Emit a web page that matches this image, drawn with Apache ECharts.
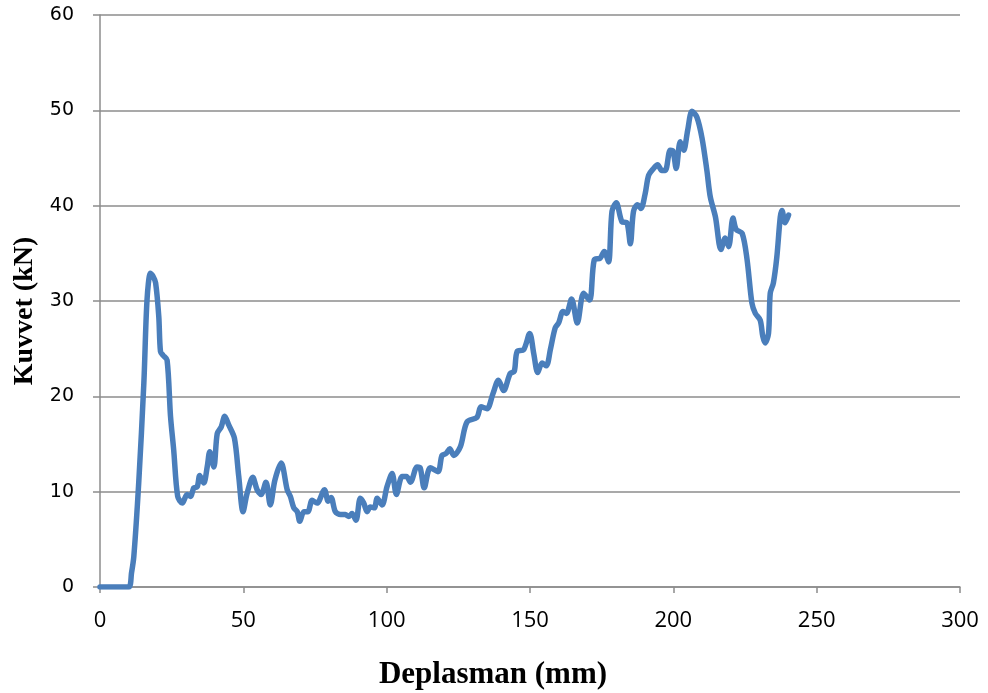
<!DOCTYPE html>
<html><head><meta charset="utf-8">
<script src="https://cdn.jsdelivr.net/npm/echarts@6/dist/echarts.min.js"></script>
<style>html,body{margin:0;padding:0;background:#fff}#c{width:988px;height:693px}</style>
</head><body><div id="c"></div>
<script>
const xTicks = [0, 50, 100, 150, 200, 250, 300];
const yTicks = [0, 10, 20, 30, 40, 50, 60];
const displacement = [0,5,10,11,11.8,13.5,15.3,16.4,17.6,18.5,19.4,20.5,21.1,22,23.4,24.6,25.7,27.1,28.7,30.4,31.6,32.7,33.9,34.8,36.2,37.4,38.3,39.7,40.9,42.3,43.5,44.9,46.9,48.4,49.9,51.3,53.3,54.8,56.2,57.9,59.4,61.0,63.2,65.3,66.4,67.6,68.8,69.7,71.1,72.5,74.0,75.7,78.3,79.6,80.6,82.1,83.9,85.6,86.8,87.9,89.3,90.8,92.0,93.2,94.3,95.7,96.7,98.4,100.1,101.9,103.4,105.4,106.9,108.3,110.6,111.7,113.1,115.2,117.9,119.3,120.7,122.0,123.4,125.7,128.0,131.5,132.9,135.0,137.1,139.0,140.8,143.1,144.5,145.5,147.8,149.9,151.3,152.7,154.2,155.7,157.1,158.8,160,161.5,162.7,164.5,166.5,168.7,170.8,172.4,174.5,175.9,177.4,178.6,180.1,182.1,183.8,185.0,186.1,187.5,188.7,190.2,191.4,193.1,194.5,196,197.2,198.9,199.9,201,202.4,203.6,205,206.5,208.2,210,211.7,212.9,214.7,216.6,218.1,219.3,220.8,221.9,224.0,225.7,227.4,228.6,230.3,231.2,232.0,233.2,233.8,234.9,236.1,237.3,237.9,239.0,240.2];
const force = [0,0,0,1.5,3.2,10.9,21.4,30.1,32.9,32.6,31.9,28.4,24.7,24.3,23.8,17.9,14.4,9.5,8.8,9.7,9.5,10.4,10.5,11.7,10.9,12.6,14.2,12.6,16.1,16.8,17.9,17.0,15.6,11.6,7.9,9.8,11.5,10.2,9.7,11.0,8.6,11.2,13.0,10.2,9.5,8.3,7.9,6.9,7.9,7.9,9.1,8.8,10.2,9.0,9.4,7.9,7.6,7.6,7.4,7.7,7.0,9.3,8.8,7.9,8.4,8.3,9.3,8.6,10.5,11.9,9.7,11.6,11.6,11.0,12.6,12.5,10.4,12.5,12.1,13.8,14.0,14.5,13.8,14.7,17.3,17.8,18.9,18.7,20.3,21.7,20.6,22.4,22.6,24.7,24.9,26.6,24.5,22.5,23.5,23.2,24.9,27.2,27.7,28.9,28.7,30.2,27.7,30.8,30.1,34.3,34.5,35.2,34.1,39.4,40.3,38.3,38.2,36.0,39.4,40.1,39.7,41.3,43.2,43.9,44.3,43.7,43.7,45.8,45.7,43.9,46.7,45.8,47.9,49.9,49.3,47.1,43.7,40.9,38.8,35.4,36.6,35.7,38.7,37.5,37.1,34.4,29.8,28.7,28.0,26.3,25.6,26.6,30.8,31.9,34.6,38.8,39.5,38.2,39.0];

const chart = echarts.init(document.getElementById('c'), null, {renderer: 'canvas'});
const lineData = displacement.map((x, i) => [x, force[i]]);
const gridColor = '#8c8c8c';
chart.setOption({
  animation: false,
  backgroundColor: '#ffffff',
  grid: {left: 100, right: 28, top: 15, bottom: 106, containLabel: false, outerBoundsMode: 'none'},
  xAxis: {
    type: 'value', min: xTicks[0], max: xTicks[xTicks.length - 1], interval: 50,
    name: 'Deplasman (mm)', nameLocation: 'middle', nameGap: 72,
    nameTextStyle: {fontFamily: 'Liberation Serif', fontWeight: 'bold', fontSize: 31, color: '#000', padding: [0, 74, 0, 0]},
    axisLine: {lineStyle: {color: gridColor, width: 1.5}},
    axisTick: {show: true, inside: false, length: 6, lineStyle: {color: gridColor, width: 1.5}},
    axisLabel: {margin: 23, fontFamily: 'Open Sans', fontSize: 22, color: '#000'},
    splitLine: {show: false}
  },
  yAxis: {
    type: 'value', min: yTicks[0], max: yTicks[yTicks.length - 1], interval: 10,
    name: 'Kuvvet (kN)', nameLocation: 'middle', nameGap: 61, nameRotate: 90,
    nameTextStyle: {fontFamily: 'Liberation Serif', fontWeight: 'bold', fontSize: 28, color: '#000', padding: [0, 20, 0, 0]},
    axisLine: {show: true, lineStyle: {color: gridColor, width: 1.5}},
    axisTick: {show: true, inside: false, length: 7, lineStyle: {color: gridColor, width: 1.5}},
    axisLabel: {margin: 26, fontFamily: 'DejaVu Sans', fontSize: 19, color: '#000'},
    splitLine: {show: true, lineStyle: {color: gridColor, width: 1.5}}
  },
  series: [{
    type: 'line', data: lineData, smooth: 0.3, showSymbol: false,
    lineStyle: {color: '#4a7ebb', width: 5.5, cap: 'round', join: 'round'}
  }]
});
</script></body></html>
